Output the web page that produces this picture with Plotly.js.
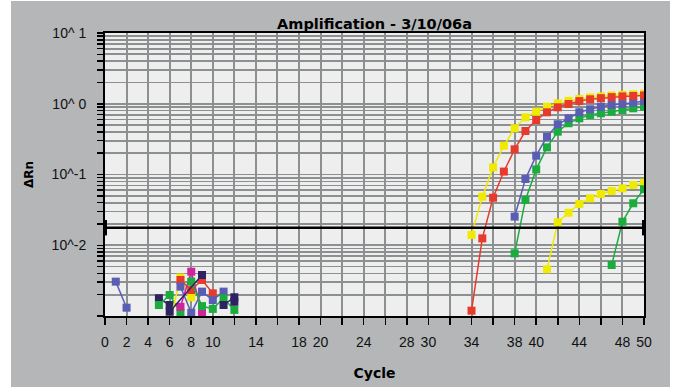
<!DOCTYPE html>
<html>
<head>
<meta charset="utf-8">
<script src="https://cdn.plot.ly/plotly-3.0.1.min.js"></script>
<style>
  html, body { margin: 0; padding: 0; background: #ffffff; width: 676px; height: 389px; overflow: hidden; }
  #chart { position: absolute; left: 11px; top: 1px; width: 659px; height: 386px; }
</style>
</head>
<body>
<div id="chart"></div>
<script>
// ---- amplification curves (cycle, delta Rn) ----
const cyclesA = [34,35,36,37,38,39,40,41,42,43,44,45,46,47,48,49,50];
const yellowA = [0.014,0.0486,0.126,0.255,0.45,0.643,0.773,0.908,1.01,1.10,1.17,1.23,1.27,1.31,1.34,1.36,1.39];
const redA    = [0.00119,0.0125,0.047,0.11,0.227,0.412,0.589,0.757,0.891,0.992,1.09,1.155,1.20,1.24,1.27,1.29,1.31];

const cyclesB = [38,39,40,41,42,43,44,45,46,47,48,49,50];
const blueB   = [0.0254,0.0863,0.1845,0.342,0.513,0.622,0.757,0.835,0.908,0.96,0.99,1.035,1.09];
const greenB  = [0.00769,0.0437,0.118,0.242,0.403,0.53,0.622,0.693,0.733,0.773,0.816,0.863,0.908];

const cyclesC = [41,42,43,44,45,46,47,48,49,50];
const yellowC = [0.00457,0.0211,0.0288,0.0383,0.046,0.053,0.0585,0.0638,0.0711,0.0766];

const cyclesD = [47,48,49,50];
const greenD  = [0.00526,0.0215,0.0392,0.062];

// ---- background noise wells (early cycles) ----
const nBlue1X = [1,2],            nBlue1Y = [0.00306,0.00131];
const nBlue2X = [7,8,9,10,11],    nBlue2Y = [0.0026,0.00111,0.00221,0.00168,0.00221];
const nRedX   = [7,8,9,10],       nRedY   = [0.00323,0.00233,0.00323,0.00209];
const nYelX   = [6,7,8],          nYelY   = [0.0008,0.0035,0.00184];
const nGrn1X  = [5,6,7],          nGrn1Y  = [0.00143,0.00198,0.00111];
const nGrn2X  = [8,9,10,11,12],   nGrn2Y  = [0.00306,0.00138,0.00126,0.00178,0.00122];
const nMagX   = [7,8,9],          nMagY   = [0.00135,0.00423,0.00111];
const nNav1X  = [5,6],            nNav1Y  = [0.00178,0.00143];
const nNav2X  = [6,9,10,11,12],   nNav2Y  = [0.00115,0.0038,null,0.00143,0.00184];
const nNav3X  = [12],             nNav3Y  = [0.00159];

// ---- threshold ----
const thresholdX = [0,50];
const thresholdY = [0.0177,0.0177];

// ---- axis labels ----
const xTickVals = [0,2,4,6,8,10,12,14,16,18,20,22,24,26,28,30,32,34,36,38,40,42,44,46,48,50];
const xLabeled  = [0,2,4,6,8,10,14,18,20,24,28,30,34,38,40,44,48,50];
const yDecades  = [0.001,0.01,0.1,1,10];
const yDecadeLabels = ['', '10^-2', '10^-1', '10^ 0', '10^ 1'];

const C = {
  yellow: '#f0ea00', red: '#e63a2c', blue: '#5a5db4', green: '#1aad3e',
  magenta: '#d0249c', navy: '#2e2263'
};

function series(x, y, color) {
  return {
    x: x, y: y, type: 'scatter', mode: 'lines+markers',
    line: { color: color, width: 1.5 },
    marker: { symbol: 'square', size: 8, color: color },
    hoverinfo: 'x+y', showlegend: false
  };
}

const traces = [
  series(nBlue1X, nBlue1Y, C.blue),
  series(nNav1X, nNav1Y, C.navy),
  series(nGrn1X, nGrn1Y, C.green),
  series(nYelX, nYelY, C.yellow),
  series(nRedX, nRedY, C.red),
  series(nBlue2X, nBlue2Y, C.blue),
  series(nMagX, nMagY, C.magenta),
  series(nGrn2X, nGrn2Y, C.green),
  series(nNav2X, nNav2Y, C.navy),
  series(nNav3X, nNav3Y, C.navy),
  series(cyclesB, greenB, C.green),
  series(cyclesB, blueB, C.blue),
  series(cyclesA, yellowA, C.yellow),
  series(cyclesA, redA, C.red),
  series(cyclesC, yellowC, C.yellow),
  series(cyclesD, greenD, C.green),
  {
    x: thresholdX, y: thresholdY, type: 'scatter', mode: 'lines+markers',
    line: { color: '#000000', width: 2.5 },
    marker: { symbol: 'line-ns', size: 11, line: { color: '#000000', width: 4 } },
    cliponaxis: false, showlegend: false, hoverinfo: 'skip'
  }
];

const xTickText = xTickVals.map(v => xLabeled.indexOf(v) >= 0 ? String(v) : '');
const yTickVals = [], yTickText = [];
yDecades.forEach((d, i) => {
  yTickVals.push(d); yTickText.push(yDecadeLabels[i]);
  if (i < yDecades.length - 1) {
    for (let k = 2; k <= 9; k++) { yTickVals.push(d * k); yTickText.push(''); }
  }
});

const tickFont = { family: 'Liberation Sans, Arial, sans-serif', size: 14, color: '#111111' };

const layout = {
  width: 659, height: 386,
  margin: { l: 94, r: 26, t: 32, b: 71, pad: 0 },
  paper_bgcolor: '#b4b6b8',
  plot_bgcolor: '#eeeeee',
  title: {
    text: 'Amplification - 3/10/06a',
    font: { family: 'DejaVu Sans, sans-serif', size: 14.5, weight: 'bold', color: '#000000' },
    x: 0.5, xref: 'paper', xanchor: 'center',
    y: 1 - 23 / 386, yref: 'container', yanchor: 'middle'
  },
  xaxis: {
    range: [0, 50], type: 'linear',
    tickmode: 'array', tickvals: xTickVals, ticktext: xTickText,
    ticks: 'outside', ticklen: 7, tickwidth: 1.5, tickcolor: '#000000',
    ticklabelstandoff: 5,
    showgrid: true, gridcolor: '#8c9090', gridwidth: 2,
    showline: true, linecolor: '#000000', linewidth: 2, mirror: true,
    zeroline: false, tickfont: tickFont,
    title: { text: 'Cycle', font: { family: 'DejaVu Sans, sans-serif', size: 14, weight: 'bold', color: '#000000' }, standoff: 19 }
  },
  yaxis: {
    type: 'log', range: [-3, 1],
    tickmode: 'array', tickvals: yTickVals, ticktext: yTickText,
    ticks: 'outside', ticklen: 6, tickwidth: 1.5, tickcolor: '#000000',
    ticklabelstandoff: 8,
    showgrid: true, gridcolor: '#8c9090', gridwidth: 1.7,
    showline: true, linecolor: '#000000', linewidth: 2, mirror: true,
    zeroline: false, tickfont: tickFont,
    title: { text: 'ΔRn', font: { family: 'DejaVu Sans, sans-serif', size: 12, weight: 'bold', color: '#000000' }, standoff: 15 }
  },
  showlegend: false
};

Plotly.newPlot('chart', traces, layout, { displayModeBar: false, staticPlot: true });
</script>
</body>
</html>
